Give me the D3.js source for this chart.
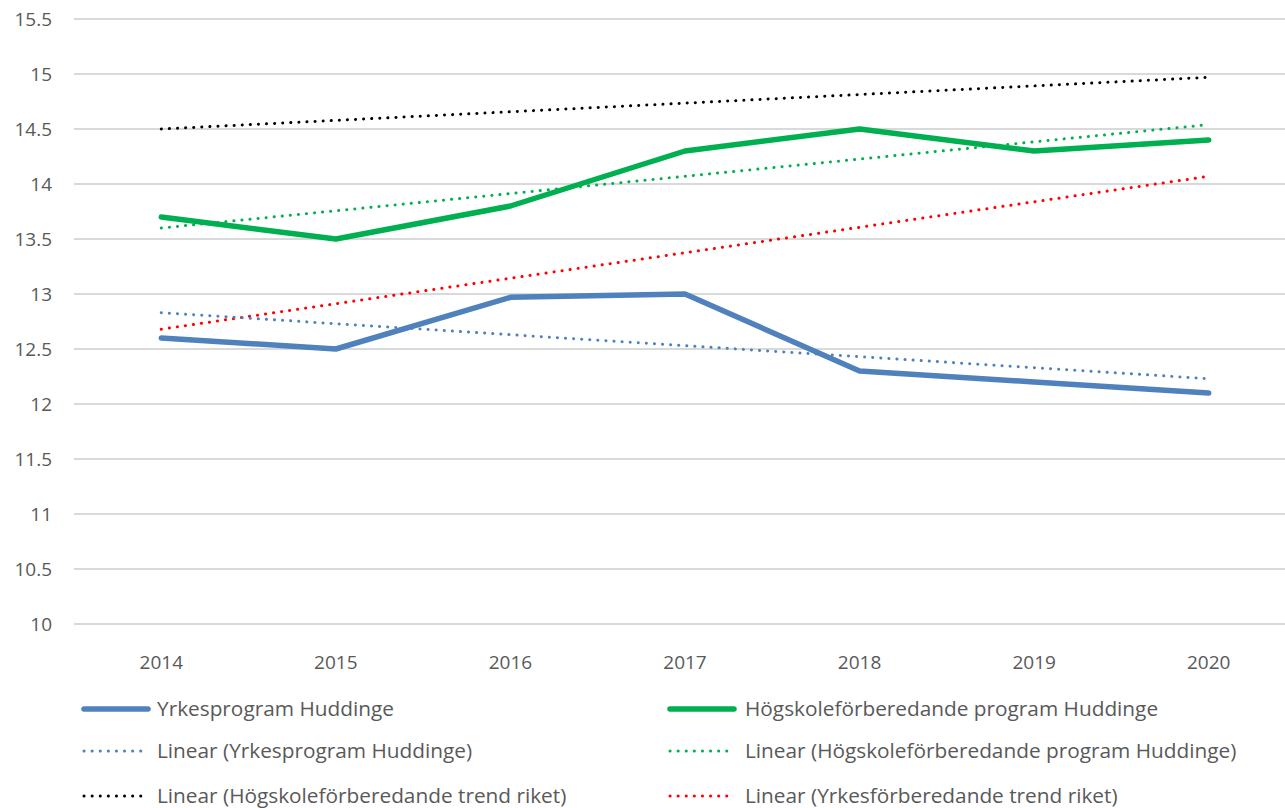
<!DOCTYPE html>
<html>
<head>
<meta charset="utf-8">
<script src="https://cdn.jsdelivr.net/npm/d3@7.9.0/dist/d3.min.js"></script>
<style>
  html, body { margin: 0; padding: 0; background: #fff; }
  svg text { font-family: "Open Sans", Lato, sans-serif; fill: #595959; }
</style>
</head>
<body>
<svg id="chart" width="1285" height="808"></svg>
<script>
// ---- data ----
const years = ['2014', '2015', '2016', '2017', '2018', '2019', '2020'];
const yrkesHuddinge = [12.6, 12.5, 12.97, 13.0, 12.3, 12.2, 12.1];
const hogskoleHuddinge = [13.7, 13.5, 13.8, 14.3, 14.5, 14.3, 14.4];
// trend lines: value at 2014 and at 2020
const trendYrkesHuddinge = [12.83, 12.23];
const trendHogskoleHuddinge = [13.6, 14.54];
const trendHogskoleRiket = [14.5, 14.97];
const trendYrkesRiket = [12.68, 14.07];
const yTicks = [10, 10.5, 11, 11.5, 12, 12.5, 13, 13.5, 14, 14.5, 15, 15.5];

const svg = d3.select('#chart');

// scales
const x = d3.scaleBand().domain(years).range([74, 1296]);
const xc = d => x(d) + x.bandwidth() / 2;
const y = d3.scaleLinear().domain([10, 15.5]).range([624, 19]);

// gridlines
svg.append('g')
  .selectAll('line')
  .data(yTicks)
  .join('line')
  .attr('x1', 74).attr('x2', 1285)
  .attr('y1', d => y(d)).attr('y2', d => y(d))
  .attr('stroke', '#d9d9d9')
  .attr('stroke-width', 2);

// y tick labels
svg.append('g')
  .selectAll('text')
  .data(yTicks)
  .join('text')
  .attr('x', 52)
  .attr('y', d => y(d))
  .attr('dy', '0.35em')
  .attr('text-anchor', 'end')
  .attr('font-size', 19)
  .text(d => d);

// x tick labels
svg.append('g')
  .selectAll('text')
  .data(years)
  .join('text')
  .attr('x', d => xc(d))
  .attr('y', 662)
  .attr('dy', '0.35em')
  .attr('text-anchor', 'middle')
  .attr('font-size', 19)
  .text(d => d);

const line = d3.line().x(d => xc(d.year)).y(d => y(d.value));

const trend = (vals) => [
  { year: years[0], value: vals[0] },
  { year: years[years.length - 1], value: vals[1] }
];
const series = (vals) => vals.map((v, i) => ({ year: years[i], value: v }));

const dotted = { width: 3, dash: '0.1 8' };

const layers = [
  { label: 'Linear (Högskoleförberedande trend riket)', data: trend(trendHogskoleRiket), color: '#000000', ...dotted },
  { label: 'Linear (Yrkesförberedande trend riket)', data: trend(trendYrkesRiket), color: '#ff0000', ...dotted },
  { label: 'Linear (Högskoleförberedande program Huddinge)', data: trend(trendHogskoleHuddinge), color: '#00b050', ...dotted },
  { label: 'Linear (Yrkesprogram Huddinge)', data: trend(trendYrkesHuddinge), color: '#4f81bd', ...dotted },
  { label: 'Yrkesprogram Huddinge', data: series(yrkesHuddinge), color: '#4f81bd', width: 5.5, dash: null },
  { label: 'Högskoleförberedande program Huddinge', data: series(hogskoleHuddinge), color: '#00b050', width: 5.5, dash: null }
];

svg.append('g')
  .selectAll('path')
  .data(layers)
  .join('path')
  .attr('d', d => line(d.data))
  .attr('fill', 'none')
  .attr('stroke', d => d.color)
  .attr('stroke-width', d => d.width)
  .attr('stroke-linecap', 'round')
  .attr('stroke-linejoin', 'round')
  .attr('stroke-dasharray', d => d.dash);

// legend, two columns, three rows
const legendOrder = [
  'Yrkesprogram Huddinge',
  'Högskoleförberedande program Huddinge',
  'Linear (Yrkesprogram Huddinge)',
  'Linear (Högskoleförberedande program Huddinge)',
  'Linear (Högskoleförberedande trend riket)',
  'Linear (Yrkesförberedande trend riket)'
];
const colX = [84, 670];
const rowY = [709, 751, 796];

const items = svg.append('g')
  .selectAll('g')
  .data(legendOrder.map(l => layers.find(d => d.label === l)))
  .join('g')
  .attr('transform', (d, i) => `translate(${colX[i % 2]},${rowY[Math.floor(i / 2)]})`);

items.append('line')
  .attr('x1', 0).attr('x2', d => d.dash ? 62 : 64)
  .attr('stroke', d => d.color)
  .attr('stroke-width', d => d.width)
  .attr('stroke-linecap', 'round')
  .attr('stroke-dasharray', d => d.dash);

items.append('text')
  .attr('x', (d, i) => i % 2 ? 75 : 73)
  .attr('dy', '0.35em')
  .attr('font-size', 20.8)
  .text(d => d.label);
</script>
</body>
</html>
